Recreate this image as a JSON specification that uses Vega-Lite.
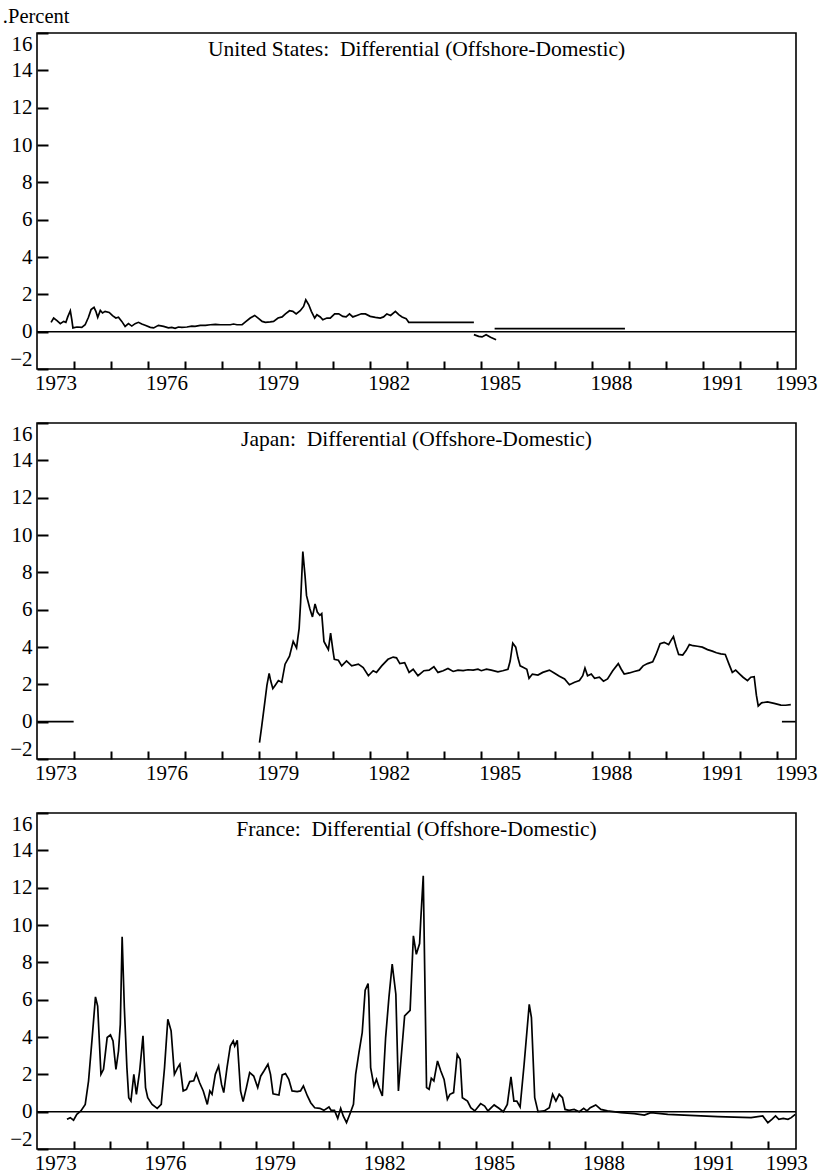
{
  "$schema": "https://vega.github.io/schema/vega-lite/v6.json",
  "padding": {"left": 2, "top": 6, "right": 4, "bottom": 2},
  "title": {"text": ".Percent", "anchor": "start", "fontSize": 20.5, "font": "Liberation Serif", "fontWeight": "normal", "color": "#000", "offset": 4, "dx": -6},
  "spacing": 27,
  "config": {
    "font": "Liberation Serif",
    "view": {"stroke": "#000", "strokeWidth": 1.6},
    "axis": {"domain": false, "grid": false, "labelFont": "Liberation Serif", "labelFontSize": 21, "labelColor": "#000", "tickColor": "#000", "tickWidth": 2},
    "axisX": {"tickSize": -8, "labelPadding": 11, "labelFlush": false, "labelOverlap": false},
    "axisY": {"tickSize": -11, "labelPadding": 16, "labelFlush": true, "labelOverlap": false},
    "title": {"font": "Liberation Serif", "fontSize": 21.5, "fontWeight": "normal", "color": "#000", "anchor": "middle"}
  },
  "datasets": {
    "us": [
      {"t":1972.88,"v":0.50,"s":1},{"t":1972.95,"v":0.73,"s":1},{"t":1973.04,"v":0.59,"s":1},{"t":1973.13,"v":0.43,"s":1},{"t":1973.22,"v":0.55,"s":1},{"t":1973.28,"v":0.50,"s":1},{"t":1973.33,"v":0.79,"s":1},{"t":1973.40,"v":1.12,"s":1},{"t":1973.44,"v":0.64,"s":1},{"t":1973.47,"v":0.20,"s":1},{"t":1973.58,"v":0.25,"s":1},{"t":1973.71,"v":0.23,"s":1},{"t":1973.80,"v":0.37,"s":1},{"t":1973.89,"v":0.77,"s":1},{"t":1973.96,"v":1.18,"s":1},{"t":1974.04,"v":1.30,"s":1},{"t":1974.09,"v":1.09,"s":1},{"t":1974.14,"v":0.77,"s":1},{"t":1974.21,"v":1.14,"s":1},{"t":1974.27,"v":1.00,"s":1},{"t":1974.34,"v":1.09,"s":1},{"t":1974.45,"v":1.03,"s":1},{"t":1974.54,"v":0.86,"s":1},{"t":1974.63,"v":0.73,"s":1},{"t":1974.70,"v":0.77,"s":1},{"t":1974.79,"v":0.55,"s":1},{"t":1974.88,"v":0.28,"s":1},{"t":1974.97,"v":0.43,"s":1},{"t":1975.06,"v":0.30,"s":1},{"t":1975.15,"v":0.43,"s":1},{"t":1975.24,"v":0.50,"s":1},{"t":1975.33,"v":0.41,"s":1},{"t":1975.42,"v":0.34,"s":1},{"t":1975.56,"v":0.23,"s":1},{"t":1975.65,"v":0.20,"s":1},{"t":1975.78,"v":0.34,"s":1},{"t":1975.92,"v":0.28,"s":1},{"t":1976.05,"v":0.20,"s":1},{"t":1976.14,"v":0.23,"s":1},{"t":1976.23,"v":0.18,"s":1},{"t":1976.32,"v":0.25,"s":1},{"t":1976.41,"v":0.23,"s":1},{"t":1976.55,"v":0.25,"s":1},{"t":1976.68,"v":0.30,"s":1},{"t":1976.77,"v":0.28,"s":1},{"t":1976.91,"v":0.34,"s":1},{"t":1977.05,"v":0.34,"s":1},{"t":1977.18,"v":0.37,"s":1},{"t":1977.32,"v":0.39,"s":1},{"t":1977.45,"v":0.37,"s":1},{"t":1977.59,"v":0.37,"s":1},{"t":1977.72,"v":0.37,"s":1},{"t":1977.81,"v":0.41,"s":1},{"t":1977.90,"v":0.37,"s":1},{"t":1978.04,"v":0.37,"s":1},{"t":1978.13,"v":0.52,"s":1},{"t":1978.26,"v":0.73,"s":1},{"t":1978.38,"v":0.87,"s":1},{"t":1978.49,"v":0.70,"s":1},{"t":1978.58,"v":0.55,"s":1},{"t":1978.67,"v":0.50,"s":1},{"t":1978.80,"v":0.52,"s":1},{"t":1978.89,"v":0.55,"s":1},{"t":1979.01,"v":0.73,"s":1},{"t":1979.12,"v":0.79,"s":1},{"t":1979.21,"v":0.95,"s":1},{"t":1979.32,"v":1.12,"s":1},{"t":1979.41,"v":1.09,"s":1},{"t":1979.50,"v":0.95,"s":1},{"t":1979.61,"v":1.12,"s":1},{"t":1979.70,"v":1.35,"s":1},{"t":1979.76,"v":1.71,"s":1},{"t":1979.84,"v":1.44,"s":1},{"t":1979.91,"v":1.09,"s":1},{"t":1980.00,"v":0.73,"s":1},{"t":1980.06,"v":0.91,"s":1},{"t":1980.15,"v":0.79,"s":1},{"t":1980.22,"v":0.64,"s":1},{"t":1980.33,"v":0.73,"s":1},{"t":1980.42,"v":0.73,"s":1},{"t":1980.54,"v":0.95,"s":1},{"t":1980.65,"v":0.96,"s":1},{"t":1980.76,"v":0.82,"s":1},{"t":1980.85,"v":0.79,"s":1},{"t":1980.94,"v":0.95,"s":1},{"t":1981.03,"v":0.79,"s":1},{"t":1981.14,"v":0.87,"s":1},{"t":1981.26,"v":0.96,"s":1},{"t":1981.37,"v":0.95,"s":1},{"t":1981.50,"v":0.82,"s":1},{"t":1981.64,"v":0.77,"s":1},{"t":1981.77,"v":0.73,"s":1},{"t":1981.86,"v":0.79,"s":1},{"t":1981.95,"v":0.95,"s":1},{"t":1982.05,"v":0.87,"s":1},{"t":1982.18,"v":1.09,"s":1},{"t":1982.27,"v":0.91,"s":1},{"t":1982.36,"v":0.79,"s":1},{"t":1982.47,"v":0.70,"s":1},{"t":1982.54,"v":0.50,"s":1},{"t":1984.30,"v":0.50,"s":1},
      {"t":1984.30,"v":-0.16,"s":2},{"t":1984.43,"v":-0.25,"s":2},{"t":1984.52,"v":-0.28,"s":2},{"t":1984.63,"v":-0.16,"s":2},{"t":1984.75,"v":-0.30,"s":2},{"t":1984.90,"v":-0.43,"s":2},
      {"t":1984.86,"v":0.16,"s":3},{"t":1988.38,"v":0.16,"s":3}
    ],
    "jp": [
      {"t":1972.51,"v":0,"s":1},{"t":1973.49,"v":0,"s":1},
      {"t":1978.51,"v":-1.12,"s":2},{"t":1978.57,"v":-0.24,"s":2},{"t":1978.66,"v":1.15,"s":2},{"t":1978.71,"v":1.94,"s":2},{"t":1978.77,"v":2.59,"s":2},{"t":1978.81,"v":2.20,"s":2},{"t":1978.87,"v":1.77,"s":2},{"t":1978.93,"v":1.94,"s":2},{"t":1979.02,"v":2.20,"s":2},{"t":1979.11,"v":2.11,"s":2},{"t":1979.20,"v":3.08,"s":2},{"t":1979.32,"v":3.51,"s":2},{"t":1979.42,"v":4.30,"s":2},{"t":1979.51,"v":3.95,"s":2},{"t":1979.58,"v":5.00,"s":2},{"t":1979.62,"v":6.40,"s":2},{"t":1979.68,"v":9.11,"s":2},{"t":1979.74,"v":7.80,"s":2},{"t":1979.78,"v":6.75,"s":2},{"t":1979.87,"v":6.05,"s":2},{"t":1979.94,"v":5.61,"s":2},{"t":1980.01,"v":6.31,"s":2},{"t":1980.07,"v":5.87,"s":2},{"t":1980.14,"v":5.70,"s":2},{"t":1980.19,"v":5.79,"s":2},{"t":1980.25,"v":4.30,"s":2},{"t":1980.32,"v":4.04,"s":2},{"t":1980.37,"v":3.86,"s":2},{"t":1980.43,"v":4.74,"s":2},{"t":1980.49,"v":3.86,"s":2},{"t":1980.53,"v":3.34,"s":2},{"t":1980.64,"v":3.29,"s":2},{"t":1980.73,"v":2.99,"s":2},{"t":1980.86,"v":3.25,"s":2},{"t":1981.00,"v":2.99,"s":2},{"t":1981.18,"v":3.08,"s":2},{"t":1981.31,"v":2.90,"s":2},{"t":1981.45,"v":2.46,"s":2},{"t":1981.58,"v":2.73,"s":2},{"t":1981.67,"v":2.64,"s":2},{"t":1981.81,"v":2.99,"s":2},{"t":1981.98,"v":3.34,"s":2},{"t":1982.12,"v":3.46,"s":2},{"t":1982.21,"v":3.42,"s":2},{"t":1982.30,"v":3.11,"s":2},{"t":1982.43,"v":3.16,"s":2},{"t":1982.55,"v":2.64,"s":2},{"t":1982.66,"v":2.81,"s":2},{"t":1982.79,"v":2.46,"s":2},{"t":1982.95,"v":2.73,"s":2},{"t":1983.09,"v":2.76,"s":2},{"t":1983.22,"v":2.94,"s":2},{"t":1983.33,"v":2.64,"s":2},{"t":1983.47,"v":2.73,"s":2},{"t":1983.60,"v":2.85,"s":2},{"t":1983.74,"v":2.69,"s":2},{"t":1983.87,"v":2.76,"s":2},{"t":1984.01,"v":2.73,"s":2},{"t":1984.14,"v":2.78,"s":2},{"t":1984.28,"v":2.76,"s":2},{"t":1984.41,"v":2.81,"s":2},{"t":1984.50,"v":2.73,"s":2},{"t":1984.64,"v":2.81,"s":2},{"t":1984.77,"v":2.76,"s":2},{"t":1984.95,"v":2.67,"s":2},{"t":1985.08,"v":2.73,"s":2},{"t":1985.22,"v":2.81,"s":2},{"t":1985.28,"v":3.25,"s":2},{"t":1985.35,"v":4.21,"s":2},{"t":1985.43,"v":3.99,"s":2},{"t":1985.49,"v":3.42,"s":2},{"t":1985.55,"v":2.99,"s":2},{"t":1985.64,"v":2.90,"s":2},{"t":1985.73,"v":2.81,"s":2},{"t":1985.79,"v":2.32,"s":2},{"t":1985.88,"v":2.55,"s":2},{"t":1986.03,"v":2.50,"s":2},{"t":1986.16,"v":2.64,"s":2},{"t":1986.34,"v":2.76,"s":2},{"t":1986.48,"v":2.59,"s":2},{"t":1986.61,"v":2.43,"s":2},{"t":1986.75,"v":2.29,"s":2},{"t":1986.88,"v":1.98,"s":2},{"t":1987.02,"v":2.11,"s":2},{"t":1987.15,"v":2.20,"s":2},{"t":1987.24,"v":2.46,"s":2},{"t":1987.30,"v":2.87,"s":2},{"t":1987.37,"v":2.46,"s":2},{"t":1987.47,"v":2.55,"s":2},{"t":1987.56,"v":2.32,"s":2},{"t":1987.69,"v":2.38,"s":2},{"t":1987.80,"v":2.17,"s":2},{"t":1987.91,"v":2.29,"s":2},{"t":1988.05,"v":2.73,"s":2},{"t":1988.20,"v":3.11,"s":2},{"t":1988.28,"v":2.81,"s":2},{"t":1988.36,"v":2.55,"s":2},{"t":1988.50,"v":2.61,"s":2},{"t":1988.63,"v":2.69,"s":2},{"t":1988.77,"v":2.76,"s":2},{"t":1988.87,"v":2.99,"s":2},{"t":1988.99,"v":3.11,"s":2},{"t":1989.13,"v":3.21,"s":2},{"t":1989.22,"v":3.60,"s":2},{"t":1989.33,"v":4.18,"s":2},{"t":1989.44,"v":4.25,"s":2},{"t":1989.56,"v":4.13,"s":2},{"t":1989.62,"v":4.34,"s":2},{"t":1989.69,"v":4.56,"s":2},{"t":1989.76,"v":4.04,"s":2},{"t":1989.83,"v":3.60,"s":2},{"t":1989.94,"v":3.57,"s":2},{"t":1990.03,"v":3.81,"s":2},{"t":1990.12,"v":4.13,"s":2},{"t":1990.22,"v":4.07,"s":2},{"t":1990.34,"v":4.04,"s":2},{"t":1990.47,"v":3.99,"s":2},{"t":1990.61,"v":3.86,"s":2},{"t":1990.74,"v":3.78,"s":2},{"t":1990.85,"v":3.69,"s":2},{"t":1990.97,"v":3.63,"s":2},{"t":1991.09,"v":3.60,"s":2},{"t":1991.19,"v":3.08,"s":2},{"t":1991.28,"v":2.64,"s":2},{"t":1991.37,"v":2.76,"s":2},{"t":1991.48,"v":2.55,"s":2},{"t":1991.57,"v":2.38,"s":2},{"t":1991.69,"v":2.20,"s":2},{"t":1991.78,"v":2.38,"s":2},{"t":1991.87,"v":2.41,"s":2},{"t":1991.93,"v":1.42,"s":2},{"t":1991.98,"v":0.84,"s":2},{"t":1992.07,"v":1.01,"s":2},{"t":1992.23,"v":1.06,"s":2},{"t":1992.41,"v":0.98,"s":2},{"t":1992.59,"v":0.89,"s":2},{"t":1992.72,"v":0.88,"s":2},{"t":1992.86,"v":0.91,"s":2},
      {"t":1992.62,"v":0,"s":3},{"t":1992.99,"v":0,"s":3}
    ],
    "fr": [
      {"t":1973.32,"v":-0.41},{"t":1973.41,"v":-0.32},{"t":1973.50,"v":-0.46},{"t":1973.59,"v":-0.14},{"t":1973.70,"v":0.04},{"t":1973.82,"v":0.39},{"t":1973.91,"v":1.64},{"t":1974.01,"v":3.97},{"t":1974.10,"v":6.15},{"t":1974.16,"v":5.66},{"t":1974.25,"v":2.00},{"t":1974.32,"v":2.27},{"t":1974.42,"v":3.97},{"t":1974.51,"v":4.11},{"t":1974.58,"v":3.79},{"t":1974.66,"v":2.27},{"t":1974.73,"v":3.25},{"t":1974.78,"v":4.68},{"t":1974.83,"v":9.37},{"t":1974.89,"v":5.58},{"t":1974.96,"v":2.36},{"t":1975.01,"v":0.75},{"t":1975.07,"v":0.57},{"t":1975.15,"v":2.00},{"t":1975.22,"v":0.93},{"t":1975.31,"v":2.18},{"t":1975.40,"v":4.06},{"t":1975.47,"v":1.29},{"t":1975.53,"v":0.75},{"t":1975.65,"v":0.39},{"t":1975.79,"v":0.18},{"t":1975.90,"v":0.39},{"t":1975.99,"v":2.36},{"t":1976.08,"v":4.95},{"t":1976.17,"v":4.33},{"t":1976.26,"v":2.00},{"t":1976.35,"v":2.36},{"t":1976.41,"v":2.54},{"t":1976.50,"v":1.11},{"t":1976.59,"v":1.20},{"t":1976.68,"v":1.61},{"t":1976.79,"v":1.65},{"t":1976.86,"v":2.04},{"t":1976.95,"v":1.55},{"t":1977.05,"v":1.11},{"t":1977.16,"v":0.39},{"t":1977.23,"v":1.11},{"t":1977.29,"v":0.93},{"t":1977.38,"v":2.00},{"t":1977.47,"v":2.45},{"t":1977.55,"v":1.46},{"t":1977.61,"v":1.02},{"t":1977.70,"v":2.36},{"t":1977.79,"v":3.52},{"t":1977.87,"v":3.79},{"t":1977.91,"v":3.52},{"t":1977.98,"v":3.82},{"t":1978.07,"v":1.11},{"t":1978.14,"v":0.54},{"t":1978.23,"v":1.29},{"t":1978.32,"v":2.09},{"t":1978.43,"v":1.91},{"t":1978.54,"v":1.29},{"t":1978.62,"v":1.90},{"t":1978.71,"v":2.18},{"t":1978.82,"v":2.54},{"t":1978.89,"v":2.00},{"t":1978.96,"v":0.96},{"t":1979.12,"v":0.89},{"t":1979.21,"v":1.97},{"t":1979.30,"v":2.04},{"t":1979.39,"v":1.73},{"t":1979.48,"v":1.11},{"t":1979.62,"v":1.07},{"t":1979.71,"v":1.11},{"t":1979.79,"v":1.38},{"t":1979.90,"v":0.84},{"t":1979.99,"v":0.48},{"t":1980.10,"v":0.21},{"t":1980.24,"v":0.18},{"t":1980.35,"v":0.07},{"t":1980.49,"v":0.25},{"t":1980.55,"v":0.07},{"t":1980.64,"v":0.07},{"t":1980.73,"v":-0.36},{"t":1980.81,"v":0.18},{"t":1980.88,"v":-0.23},{"t":1980.97,"v":-0.59},{"t":1981.06,"v":-0.14},{"t":1981.16,"v":0.39},{"t":1981.22,"v":2.00},{"t":1981.31,"v":3.16},{"t":1981.40,"v":4.24},{"t":1981.48,"v":6.51},{"t":1981.56,"v":6.86},{"t":1981.58,"v":6.11},{"t":1981.63,"v":2.36},{"t":1981.72,"v":1.38},{"t":1981.79,"v":1.73},{"t":1981.86,"v":1.29},{"t":1981.95,"v":0.84},{"t":1982.04,"v":3.97},{"t":1982.13,"v":6.11},{"t":1982.22,"v":7.90},{"t":1982.32,"v":6.29},{"t":1982.39,"v":1.11},{"t":1982.45,"v":2.54},{"t":1982.56,"v":5.13},{"t":1982.71,"v":5.43},{"t":1982.80,"v":9.42},{"t":1982.88,"v":8.43},{"t":1982.97,"v":9.01},{"t":1983.00,"v":10.22},{"t":1983.07,"v":12.64},{"t":1983.11,"v":7.54},{"t":1983.16,"v":1.29},{"t":1983.23,"v":1.20},{"t":1983.29,"v":1.79},{"t":1983.36,"v":1.65},{"t":1983.46,"v":2.72},{"t":1983.55,"v":2.18},{"t":1983.64,"v":1.73},{"t":1983.73,"v":0.66},{"t":1983.80,"v":0.93},{"t":1983.90,"v":1.02},{"t":1984.00,"v":3.07},{"t":1984.08,"v":2.80},{"t":1984.14,"v":0.75},{"t":1984.28,"v":0.57},{"t":1984.37,"v":0.21},{"t":1984.48,"v":0.04},{"t":1984.64,"v":0.43},{"t":1984.75,"v":0.30},{"t":1984.84,"v":0.04},{"t":1985.01,"v":0.36},{"t":1985.14,"v":0.18},{"t":1985.26,"v":0.00},{"t":1985.37,"v":0.39},{"t":1985.47,"v":1.86},{"t":1985.55,"v":0.57},{"t":1985.63,"v":0.57},{"t":1985.72,"v":0.25},{"t":1985.83,"v":2.54},{"t":1985.97,"v":5.75},{"t":1986.03,"v":5.04},{"t":1986.12,"v":0.75},{"t":1986.21,"v":0.00},{"t":1986.38,"v":0.04},{"t":1986.52,"v":0.21},{"t":1986.61,"v":0.93},{"t":1986.70,"v":0.57},{"t":1986.79,"v":0.93},{"t":1986.88,"v":0.75},{"t":1986.95,"v":0.12},{"t":1987.06,"v":0.07},{"t":1987.20,"v":0.12},{"t":1987.34,"v":0.00},{"t":1987.46,"v":0.18},{"t":1987.55,"v":0.04},{"t":1987.64,"v":0.21},{"t":1987.79,"v":0.36},{"t":1987.93,"v":0.12},{"t":1988.11,"v":0.04},{"t":1988.48,"v":-0.05},{"t":1988.84,"v":-0.11},{"t":1989.12,"v":-0.18},{"t":1989.30,"v":-0.05},{"t":1989.76,"v":-0.14},{"t":1990.21,"v":-0.18},{"t":1990.67,"v":-0.23},{"t":1991.13,"v":-0.27},{"t":1991.58,"v":-0.29},{"t":1992.04,"v":-0.32},{"t":1992.36,"v":-0.23},{"t":1992.50,"v":-0.59},{"t":1992.61,"v":-0.41},{"t":1992.71,"v":-0.23},{"t":1992.80,"v":-0.41},{"t":1992.92,"v":-0.36},{"t":1993.05,"v":-0.41},{"t":1993.14,"v":-0.32},{"t":1993.25,"v":-0.14}
    ],
    "zero": [{"z": 0}]
  },
  "vconcat": [
    {
      "width": 759, "height": 336,
      "title": {"text": "United States:\u00a0 Differential (Offshore-Domestic)", "offset": -28},
      "layer": [
        {
          "data": {"name": "us"},
          "mark": {"type": "line", "color": "#000", "strokeWidth": 1.7, "clip": true},
          "encoding": {
            "x": {"field": "t", "type": "quantitative", "scale": {"domain": [1972.5, 1993.0], "nice": false, "zero": false},
                  "axis": {"title": null, "values": [1973,1974,1975,1976,1977,1978,1979,1980,1981,1982,1983,1984,1985,1986,1987,1988,1989,1990,1991,1992,1993], "tickOffset": 18.5, "labelOffset": -18.5,
                           "labelExpr": "indexof([1973,1976,1979,1982,1985,1988,1991,1993], datum.value) >= 0 ? '' + datum.value : ''",
                           "tickOpacity": {"condition": {"test": "datum.value == 1993", "value": 0}, "value": 1}}},
            "y": {"field": "v", "type": "quantitative", "scale": {"domain": [-2, 16], "nice": false, "zero": false},
                  "axis": {"title": null, "values": [-2,0,2,4,6,8,10,12,14,16]}},
            "detail": {"field": "s"}
          }
        },
        {
          "data": {"name": "zero"},
          "mark": {"type": "rule", "color": "#000", "strokeWidth": 1.5},
          "encoding": {"y": {"field": "z", "type": "quantitative", "scale": {"domain": [-2, 16], "nice": false, "zero": false},
                  "axis": {"title": null, "values": [-2,0,2,4,6,8,10,12,14,16]}}}
        }
      ]
    },
    {
      "width": 759, "height": 336,
      "title": {"text": "Japan:\u00a0 Differential (Offshore-Domestic)", "offset": -28},
      "data": {"name": "jp"},
      "mark": {"type": "line", "color": "#000", "strokeWidth": 1.7, "clip": true},
      "encoding": {
        "x": {"field": "t", "type": "quantitative", "scale": {"domain": [1972.5, 1993.0], "nice": false, "zero": false},
              "axis": {"title": null, "values": [1973,1974,1975,1976,1977,1978,1979,1980,1981,1982,1983,1984,1985,1986,1987,1988,1989,1990,1991,1992,1993], "tickOffset": 18.5, "labelOffset": -18.5,
                       "labelExpr": "indexof([1973,1976,1979,1982,1985,1988,1991,1993], datum.value) >= 0 ? '' + datum.value : ''",
                       "tickOpacity": {"condition": {"test": "datum.value == 1993", "value": 0}, "value": 1}}},
        "y": {"field": "v", "type": "quantitative", "scale": {"domain": [-2, 16], "nice": false, "zero": false},
              "axis": {"title": null, "values": [-2,0,2,4,6,8,10,12,14,16]}},
        "detail": {"field": "s"}
      }
    },
    {
      "width": 759, "height": 336,
      "title": {"text": "France:\u00a0 Differential (Offshore-Domestic)", "offset": -28},
      "layer": [
        {
          "data": {"name": "fr"},
          "mark": {"type": "line", "color": "#000", "strokeWidth": 1.7, "clip": true},
          "encoding": {
            "x": {"field": "t", "type": "quantitative", "scale": {"domain": [1972.5, 1993.27], "nice": false, "zero": false},
                  "axis": {"title": null, "values": [1973,1974,1975,1976,1977,1978,1979,1980,1981,1982,1983,1984,1985,1986,1987,1988,1989,1990,1991,1992,1993], "tickOffset": 18.3, "labelOffset": -18.3,
                           "labelExpr": "indexof([1973,1976,1979,1982,1985,1988,1991,1993], datum.value) >= 0 ? '' + datum.value : ''",
                           "tickOpacity": {"condition": {"test": "datum.value == 1993", "value": 0}, "value": 1}}},
            "y": {"field": "v", "type": "quantitative", "scale": {"domain": [-2, 16], "nice": false, "zero": false},
                  "axis": {"title": null, "values": [-2,0,2,4,6,8,10,12,14,16]}}
          }
        },
        {
          "data": {"name": "zero"},
          "mark": {"type": "rule", "color": "#000", "strokeWidth": 1.5},
          "encoding": {"y": {"field": "z", "type": "quantitative", "scale": {"domain": [-2, 16], "nice": false, "zero": false},
                  "axis": {"title": null, "values": [-2,0,2,4,6,8,10,12,14,16]}}}
        }
      ]
    }
  ]
}
